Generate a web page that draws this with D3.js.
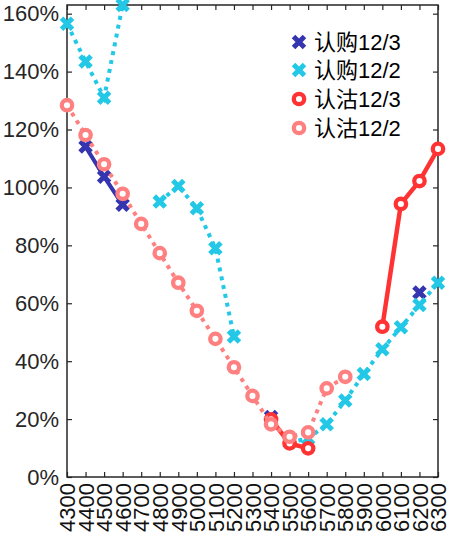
<!DOCTYPE html>
<html><head><meta charset="utf-8">
<script src="https://cdn.jsdelivr.net/npm/d3@7"></script>
<style>
body{margin:0;background:#fff;}
text{font-family:"Liberation Sans","Noto Sans CJK SC",Arial,sans-serif;}
</style></head>
<body><svg id="c" width="449" height="536"></svg>
<script>
const categories = ["4300","4400","4500","4600","4700","4800","4900","5000","5100","5200","5300","5400","5500","5600","5700","5800","5900","6000","6100","6200","6300"];
const callDec3 = [null,114.1,103.7,94.0,null,null,null,null,null,null,null,20.7,null,null,null,null,null,null,null,63.7,null];
const callDec2 = [156.5,143.5,131.0,163.0,null,95.1,100.5,92.8,79.0,48.5,null,null,12.0,13.3,18.2,26.4,35.6,44.1,51.7,59.4,67.1];
const putDec3 = [null,null,null,null,null,null,null,null,null,null,null,19.9,11.6,9.9,null,null,null,51.9,94.3,102.2,113.3];
const putDec2 = [128.4,118.1,108.0,97.8,87.4,77.3,67.1,57.4,47.7,37.9,28.0,18.2,13.9,15.4,30.6,34.6,null,null,null,null,null];
const yTicks = [0,20,40,60,80,100,120,140,160];
const seriesNames = ["认购12/3","认购12/2","认沽12/3","认沽12/2"];

const svg = d3.select("#c");
const L=67,R=438,T=5,B=477;
const x = d3.scalePoint().domain(categories).range([L,R]);
const y = d3.scaleLinear().domain([0,163]).range([B,T]);
const axisColor="#262626";

const g = svg.append("g");
g.append("rect").attr("x",L).attr("y",T).attr("width",R-L).attr("height",B-T)
 .attr("fill","none").attr("stroke",axisColor).attr("stroke-width",1.5);

const yAx = svg.append("g").attr("transform",`translate(${L},0)`)
 .call(d3.axisLeft(y).tickValues(yTicks).tickSize(-5).tickPadding(8).tickFormat(d=>d+"%"));
yAx.select(".domain").remove();
yAx.selectAll("line").attr("stroke",axisColor).attr("stroke-width",1.2);
yAx.selectAll("text").attr("font-size",22).attr("fill","#262626");

const yAxR = svg.append("g").attr("transform",`translate(${R},0)`)
 .call(d3.axisRight(y).tickValues(yTicks).tickSize(-5).tickFormat(""));
yAxR.select(".domain").remove();
yAxR.selectAll("line").attr("stroke",axisColor).attr("stroke-width",1.2);

const xAx = svg.append("g").attr("transform",`translate(0,${B})`)
 .call(d3.axisBottom(x).tickSize(-5).tickPadding(6));
xAx.select(".domain").remove();
xAx.selectAll("line").attr("stroke",axisColor).attr("stroke-width",1.2);
xAx.selectAll("text").attr("font-size",22).attr("fill","#111")
 .attr("text-anchor","end").attr("dy","0.35em")
 .attr("transform","rotate(-90) translate(-6,0)").attr("x",0).attr("y",0);

const xAxT = svg.append("g").attr("transform",`translate(0,${T})`)
 .call(d3.axisTop(x).tickSize(-5).tickFormat(""));
xAxT.select(".domain").remove();
xAxT.selectAll("line").attr("stroke",axisColor).attr("stroke-width",1.2);

const series = [
 {name:seriesNames[0], data:callDec3, color:"#3535b0", dash:null, marker:"x", w:4},
 {name:seriesNames[1], data:callDec2, color:"#22c8e6", dash:"4,5", marker:"x", w:4},
 {name:seriesNames[2], data:putDec3, color:"#ff3333", dash:null, marker:"o", w:4.5},
 {name:seriesNames[3], data:putDec2, color:"#ff8080", dash:"4,5", marker:"o", w:4}
];

const line = d3.line().defined(d=>d.v!=null).x(d=>x(d.c)).y(d=>y(d.v));
const xSym = d3.symbol().type(d3.symbolX).size(80);

function drawMarker(sel, s, cx, cy){
  if(s.marker==="x"){
    sel.append("path").attr("d",xSym()).attr("transform",`translate(${cx},${cy})`)
      .attr("fill","none").attr("stroke",s.color).attr("stroke-width",5);
  } else {
    sel.append("circle").attr("cx",cx).attr("cy",cy).attr("r",5.2)
      .attr("fill","#fff").attr("stroke",s.color).attr("stroke-width",4.3);
  }
}

series.forEach(s=>{
  const pts = categories.map((c,i)=>({c:c,v:s.data[i]}));
  const gs = svg.append("g");
  gs.append("path").attr("d",line(pts)).attr("fill","none").attr("stroke",s.color)
    .attr("stroke-width",s.w).attr("stroke-dasharray",s.dash);
  pts.filter(p=>p.v!=null).forEach(p=>drawMarker(gs,s,x(p.c),y(p.v)));
});

const lg = svg.append("g");
const rowsY=[42,70,99,128];
series.forEach((s,i)=>{
  drawMarker(lg,s,299,rowsY[i]);
  lg.append("text").attr("x",314).attr("y",rowsY[i]).attr("dy","0.35em")
    .attr("font-size",22).attr("fill","#000").text(s.name);
});
</script></body></html>
